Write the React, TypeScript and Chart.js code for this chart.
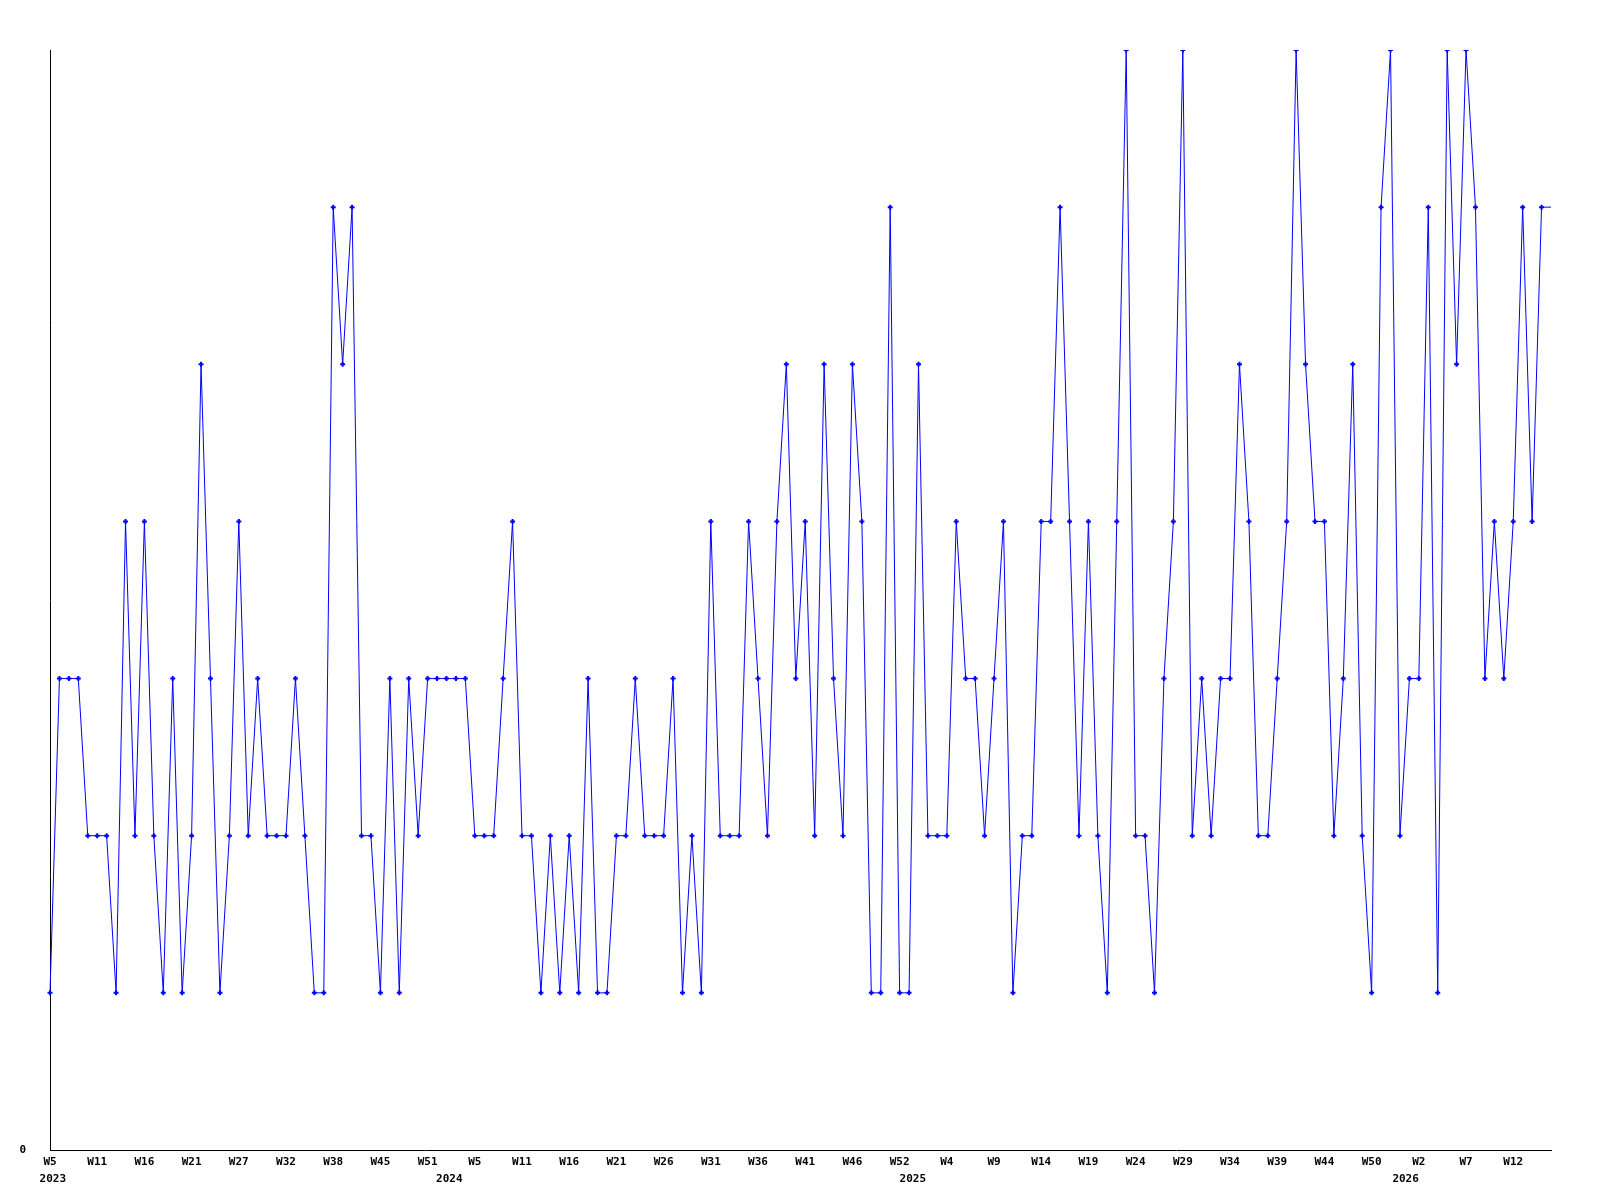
import React, { useEffect, useRef } from "react";
import { Chart, registerables } from "chart.js";

Chart.register(...registerables);

// Weekly values, one per data point (index 0 = 2023 W5)
const values: number[] = [
  1, 3, 3, 3, 2, 2, 2, 1, 4, 2, 4, 2, 1, 3, 1, 2, 5, 3, 1, 2, 4, 2, 3, 2, 2, 2, 3,
  2, 1, 1, 6, 5, 6, 2, 2, 1, 3, 1, 3, 2, 3, 3, 3, 3, 3, 2, 2, 2, 3, 4, 2, 2, 1, 2,
  1, 2, 1, 3, 1, 1, 2, 2, 3, 2, 2, 2, 3, 1, 2, 1, 4, 2, 2, 2, 4, 3, 2, 4, 5, 3,
  4, 2, 5, 3, 2, 5, 4, 1, 1, 6, 1, 1, 5, 2, 2, 2, 4, 3, 3, 2, 3, 4, 1, 2, 2, 4, 4,
  6, 4, 2, 4, 2, 1, 4, 7, 2, 2, 1, 3, 4, 7, 2, 3, 2, 3, 3, 5, 4, 2, 2, 3, 4, 7,
  5, 4, 4, 2, 3, 5, 2, 1, 6, 7, 2, 3, 3, 6, 1, 7, 5, 7, 6, 3, 4, 3, 4, 6, 4, 6,
  6,
];

// Week tick labels, one every 5 data points
const weekLabels: string[] = [
  "W5", "W11", "W16", "W21", "W27", "W32", "W38", "W45", "W51",
  "W5", "W11", "W16", "W21", "W26", "W31", "W36", "W41", "W46", "W52",
  "W4", "W9", "W14", "W19", "W24", "W29", "W34", "W39", "W44", "W50",
  "W2", "W7", "W12",
];
const labelEvery = 5;

// Year labels and the (fractional) data index where each is centred
const yearLabels: string[] = ["2023", "2024", "2025", "2026"];
const yearPositions: number[] = [0.3, 42.3, 91.4, 143.6];

const yMin = 0;
const yMax = 7;

const FONT = '"DejaVu Sans Mono", "Liberation Mono", monospace';

const yearPlugin = {
  id: "yearLabels",
  afterDraw(chart: any) {
    const xs = chart.scales.x;
    const ctx = chart.ctx;
    ctx.save();
    ctx.font = `bold 11px ${FONT}`;
    ctx.fillStyle = "#000";
    ctx.textAlign = "center";
    ctx.textBaseline = "middle";
    yearLabels.forEach((t, i) => {
      ctx.fillText(t, xs.getPixelForValue(yearPositions[i]), xs.bottom - 21);
    });
    ctx.restore();
  },
};

export default function App() {
  const ref = useRef<HTMLCanvasElement | null>(null);
  useEffect(() => {
    if (!ref.current) return;
    const chart = new Chart(ref.current, {
      type: "line",
      data: {
        labels: values.map((_, i) => String(i)),
        datasets: [
          {
            data: values,
            borderColor: "#0000ff",
            backgroundColor: "#0000ff",
            borderWidth: 1,
            tension: 0,
            pointStyle: "cross",
            pointRadius: (c: any) => (c.dataIndex === values.length - 1 ? 0 : 2.5),
            pointBorderWidth: 2,
            pointBorderColor: "#0000ff",
            pointHoverRadius: 0,
          },
        ],
      },
      plugins: [yearPlugin],
      options: {
        animation: false,
        responsive: false,
        devicePixelRatio: 1,
        events: [],
        layout: { padding: { top: 50, right: 49, left: 0, bottom: 0 } },
        plugins: { legend: { display: false }, tooltip: { enabled: false } },
        scales: {
          x: {
            type: "category",
            offset: false,
            grid: { display: false, drawTicks: false },
            border: { display: true, color: "#000", width: 1 },
            ticks: {
              autoSkip: false,
              maxRotation: 0,
              minRotation: 0,
              padding: 6,
              color: "#000",
              font: { family: FONT, size: 11, weight: "bold" },
              callback: (v: any) =>
                Number(v) % labelEvery === 0 ? weekLabels[Number(v) / labelEvery] : null,
            },
            afterFit: (s: any) => {
              s.height = 50;
            },
          },
          y: {
            min: yMin,
            max: yMax,
            grid: { display: false, drawTicks: false },
            border: { display: true, color: "#000", width: 1 },
            afterBuildTicks: (s: any) => {
              s.ticks = [{ value: 0 }];
            },
            ticks: {
              padding: 24,
              color: "#000",
              font: { family: FONT, size: 11, weight: "bold" },
              callback: (v: any) => String(v),
            },
            afterFit: (s: any) => {
              s.width = 50;
            },
          },
        },
      },
    });
    return () => chart.destroy();
  }, []);
  return (
    <div style={{ position: "absolute", left: 0, top: 0, width: 1600, height: 1200, background: "#fff" }}>
      <canvas ref={ref} width={1600} height={1200} style={{ width: 1600, height: 1200 }} />
    </div>
  );
}
